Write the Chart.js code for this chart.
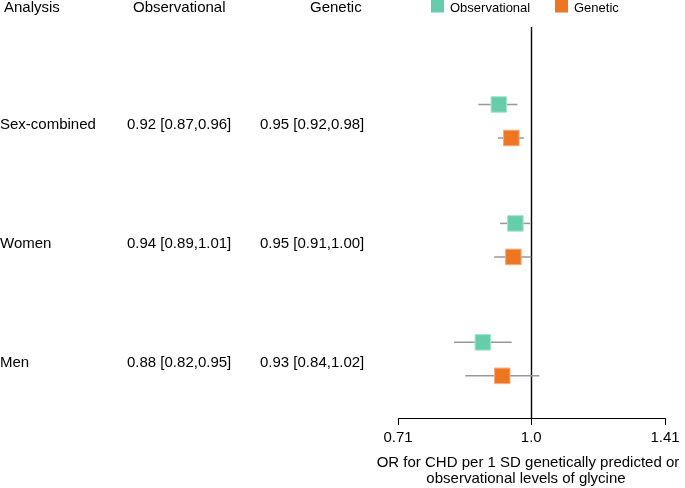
<!DOCTYPE html>
<html>
<head>
<meta charset="utf-8">
<script src="https://cdn.jsdelivr.net/npm/chart.js@4/dist/chart.umd.min.js"></script>
<style>
html, body { margin: 0; padding: 0; background: #fff; }
#wrap { width: 685px; height: 488px; }
</style>
</head>
<body>
<div id="wrap"><canvas id="forest"></canvas></div>
<script>
// Data
const analyses = ['Sex-combined', 'Women', 'Men'];
// printed estimates (table columns)
const obsText = ['0.92 [0.87,0.96]', '0.94 [0.89,1.01]', '0.88 [0.82,0.95]'];
const genText = ['0.95 [0.92,0.98]', '0.95 [0.91,1.00]', '0.93 [0.84,1.02]'];
// plotted estimates (as drawn in the figure)
const obsOR = [0.92, 0.96, 0.883];
const obsLower = [0.873, 0.923, 0.82];
const obsUpper = [0.965, 0.997, 0.951];
const genOR = [0.95, 0.955, 0.928];
const genLower = [0.918, 0.909, 0.844];
const genUpper = [0.981, 1.0, 1.021];
const groupRows = [0, 3.55, 7.1];
const xTicks = [0.71, 1.0, 1.41];
const xTickLabels = ['0.71', '1.0', '1.41'];
const xTitle = ['OR for CHD per 1 SD genetically predicted or', 'observational levels of glycine'];
const columnHeaders = ['Analysis', 'Observational', 'Genetic'];
const seriesNames = ['Observational', 'Genetic'];
const seriesColors = ['#66CDAA', '#EE7621'];

const FONT = '"Liberation Sans", Arial, Helvetica, sans-serif';

const forestExtras = {
    id: 'forestExtras',
    beforeDatasetsDraw(chart) {
        const { ctx, chartArea, scales: { x, y } } = chart;
        ctx.save();
        // reference line at OR = 1
        const x1 = Math.round(x.getPixelForValue(1.0)) + 0.5;
        ctx.strokeStyle = '#000';
        ctx.lineWidth = 1.4;
        ctx.beginPath();
        ctx.moveTo(x1, chartArea.top);
        ctx.lineTo(x1, chartArea.bottom);
        ctx.stroke();

        // confidence intervals
        ctx.strokeStyle = '#999';
        ctx.lineWidth = 1.5;
        const drawCI = (lo, hi, row) => {
            const py = y.getPixelForValue(row);
            ctx.beginPath();
            ctx.moveTo(x.getPixelForValue(lo), py);
            ctx.lineTo(x.getPixelForValue(hi), py);
            ctx.stroke();
        };
        groupRows.forEach((r, i) => {
            drawCI(obsLower[i], obsUpper[i], r);
            drawCI(genLower[i], genUpper[i], r + 1);
        });
        ctx.restore();
    },
    afterDraw(chart) {
        const { ctx, scales: { y } } = chart;
        ctx.save();
        ctx.fillStyle = '#000';
        ctx.textBaseline = 'alphabetic';
        ctx.textAlign = 'left';
        ctx.font = `15px ${FONT}`;

        // column headers
        ctx.fillText(columnHeaders[0], 4, 12);
        ctx.fillText(columnHeaders[1], 133, 12);
        ctx.fillText(columnHeaders[2], 310, 12);

        // table rows
        groupRows.forEach((r, i) => {
            const base = y.getPixelForValue(r + 0.5) + 7.5;
            ctx.fillText(analyses[i], 0, base);
            ctx.fillText(obsText[i], 127, base);
            ctx.fillText(genText[i], 260, base);
        });

        // x axis title (two centred lines)
        ctx.textAlign = 'center';
        ctx.fillText(xTitle[0], 528, 467);
        ctx.fillText(xTitle[1], 526, 483);

        // legend
        ctx.textAlign = 'left';
        ctx.font = `13px ${FONT}`;
        const legendX = [431, 555];
        const textX = [450, 574];
        seriesNames.forEach((name, i) => {
            ctx.fillStyle = seriesColors[i];
            ctx.fillRect(legendX[i], 0, 13, 12.5);
            ctx.fillStyle = '#000';
            ctx.fillText(name, textX[i], 12);
        });
        ctx.restore();
    }
};

const ctx = document.getElementById('forest').getContext('2d');

new Chart(ctx, {
    type: 'scatter',
    data: {
        datasets: [
            {
                label: seriesNames[0],
                data: obsOR.map((v, i) => ({ x: v, y: groupRows[i] })),
                backgroundColor: seriesColors[0],
                borderColor: '#a8e4cf',
                borderWidth: 1,
                pointStyle: 'rect',
                pointRadius: 11,
                pointHoverRadius: 11
            },
            {
                label: seriesNames[1],
                data: genOR.map((v, i) => ({ x: v, y: groupRows[i] + 1 })),
                backgroundColor: seriesColors[1],
                borderColor: '#f5ad80',
                borderWidth: 1,
                pointStyle: 'rect',
                pointRadius: 11,
                pointHoverRadius: 11
            }
        ]
    },
    options: {
        responsive: true,
        maintainAspectRatio: false,
        animation: false,
        layout: {
            padding: { left: 398, right: 20, top: 27, bottom: 0 }
        },
        plugins: {
            legend: { display: false },
            tooltip: { enabled: false }
        },
        scales: {
            x: {
                type: 'logarithmic',
                min: 0.71,
                max: 1.41,
                afterBuildTicks: (scale) => {
                    scale.ticks = xTicks.map(v => ({ value: v }));
                },
                afterFit: (scale) => {
                    scale.height = 70;
                },
                grid: {
                    display: true,
                    drawOnChartArea: false,
                    drawTicks: true,
                    tickLength: 7,
                    color: '#000',
                    lineWidth: 1
                },
                border: { display: true, color: '#000', width: 1 },
                ticks: {
                    padding: 4,
                    maxRotation: 0,
                    autoSkip: false,
                    color: '#000',
                    font: { family: FONT, size: 15 },
                    callback: (value, index) => xTickLabels[index]
                },
                title: { display: false }
            },
            y: {
                display: false,
                reverse: true,
                min: -2.313,
                max: 9.358
            }
        }
    },
    plugins: [forestExtras]
});
</script>
</body>
</html>
